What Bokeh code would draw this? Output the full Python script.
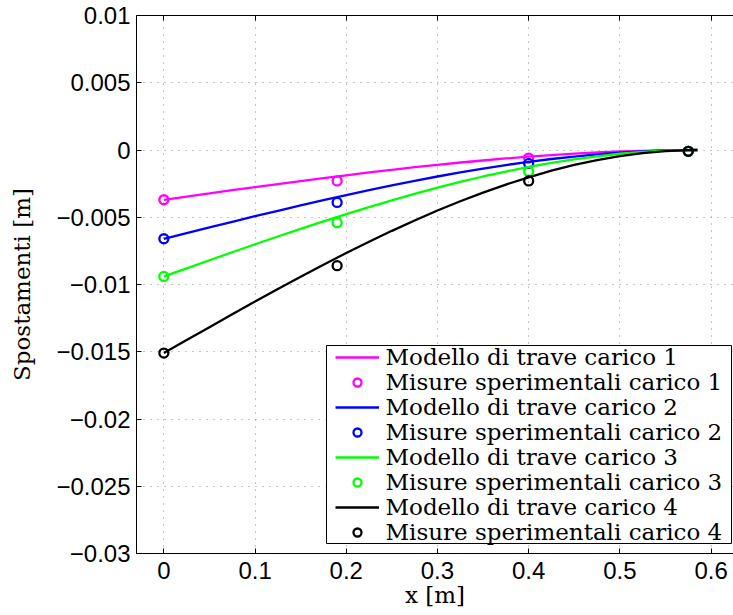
from bokeh.plotting import figure
from bokeh.models import (FixedTicker, CustomJSTickFormatter, LinearAxis, Legend,
                          LegendItem, Range1d, BoxAnnotation, Label)
from bokeh.embed import file_html
from bokeh.resources import INLINE

# ---- data ----
x_model = [0.0, 0.025, 0.05, 0.075, 0.10, 0.125, 0.15, 0.175, 0.20, 0.225, 0.25,
           0.275, 0.30, 0.325, 0.35, 0.375, 0.40, 0.425, 0.45, 0.475, 0.50,
           0.525, 0.55, 0.575, 0.585]
model_1 = [-0.00370, -0.00346, -0.00323, -0.00299, -0.00276, -0.00253, -0.00231,
           -0.00209, -0.00188, -0.00167, -0.00147, -0.00128, -0.00110, -0.00093,
           -0.00078, -0.00063, -0.00050, -0.00038, -0.00027, -0.00018, -0.00011,
           -0.00006, -0.00002, -0.000002, 0.0]
model_2 = [-0.00660, -0.00618, -0.00576, -0.00534, -0.00492, -0.00452, -0.00412,
           -0.00373, -0.00335, -0.00298, -0.00263, -0.00229, -0.00197, -0.00167,
           -0.00138, -0.00112, -0.00089, -0.00067, -0.00049, -0.00033, -0.00020,
           -0.00010, -0.00003, -0.000003, 0.0]
model_3 = [-0.00940, -0.00880, -0.00820, -0.00760, -0.00701, -0.00643, -0.00586,
           -0.00531, -0.00477, -0.00424, -0.00374, -0.00326, -0.00280, -0.00237,
           -0.00197, -0.00160, -0.00126, -0.00096, -0.00069, -0.00047, -0.00028,
           -0.00014, -0.00005, -0.000004, 0.0]
model_4 = [-0.01510, -0.01413, -0.01317, -0.01221, -0.01127, -0.01033, -0.00942,
           -0.00853, -0.00766, -0.00682, -0.00601, -0.00524, -0.00450, -0.00381,
           -0.00317, -0.00257, -0.00203, -0.00154, -0.00111, -0.00075, -0.00045,
           -0.00023, -0.00008, -0.00001, 0.0]

x_meas = [0.0, 0.19, 0.40, 0.575]
meas_1 = [-0.0037, -0.0023, -0.0006, -0.0001]
meas_2 = [-0.0066, -0.0039, -0.0010, -0.0001]
meas_3 = [-0.0094, -0.0054, -0.0016, -0.0001]
meas_4 = [-0.0151, -0.0086, -0.0023, -0.0001]

colors = ["#ff00ff", "#0000ff", "#00ff00", "#000000"]
model_labels = ["Modello di trave carico 1", "Modello di trave carico 2",
                "Modello di trave carico 3", "Modello di trave carico 4"]
meas_labels = ["Misure sperimentali carico 1", "Misure sperimentali carico 2",
               "Misure sperimentali carico 3", "Misure sperimentali carico 4"]

x_ticks = [0.0, 0.1, 0.2, 0.3, 0.4, 0.5, 0.6]
y_ticks = [-0.03, -0.025, -0.02, -0.015, -0.01, -0.005, 0.0, 0.005, 0.01]

# ---- figure ----
p = figure(width=733, height=615, output_backend="svg", toolbar_location=None,
           x_range=Range1d(-0.03, 0.6246), y_range=Range1d(-0.03, 0.01),
           min_border_left=136, min_border_right=0, min_border_top=15,
           min_border_bottom=62)
p.outline_line_color = None
p.background_fill_color = "white"
p.border_fill_color = "white"

fmt = CustomJSTickFormatter(code="""
    if (Math.abs(tick) < 1e-12) { return "0"; }
    const s = String(parseFloat(tick.toFixed(4)));
    return s.replace("-", "\\u2212");
""")

for ax, ticks in ((p.xaxis[0], x_ticks), (p.yaxis[0], y_ticks)):
    ax.ticker = FixedTicker(ticks=ticks)
    ax.formatter = fmt
    ax.major_label_text_font = "Liberation Sans"
    ax.major_label_text_font_size = "24px"
    ax.major_label_text_color = "black"
    ax.axis_line_color = "black"
    ax.axis_line_width = 1
    ax.major_tick_in = 5
    ax.major_tick_out = 0
    ax.major_tick_line_color = "black"
    ax.minor_tick_line_color = None
    ax.axis_label_text_font = "DejaVu Serif"
    ax.axis_label_text_font_size = "23px"
    ax.axis_label_text_font_style = "normal"
    ax.axis_label_text_color = "black"

p.xaxis.axis_label = "x [m]"
p.yaxis.axis_label = "Spostamenti [m]"
p.xaxis.major_label_standoff = 8
p.yaxis.major_label_standoff = 6
p.xaxis.axis_label_standoff = 0
p.yaxis.axis_label_standoff = 18

top = LinearAxis(ticker=FixedTicker(ticks=x_ticks),
                 formatter=CustomJSTickFormatter(code="return '';"),
                 axis_line_color="black", major_tick_in=5, major_tick_out=0,
                 major_label_standoff=0, minor_tick_line_color=None)
p.add_layout(top, "above")

p.xgrid.ticker = FixedTicker(ticks=x_ticks)
p.ygrid.ticker = FixedTicker(ticks=y_ticks)
for g in (p.xgrid[0], p.ygrid[0]):
    g.grid_line_color = "#8c8c8c"
    g.grid_line_dash = "1 6"
    g.grid_line_width = 1

# ---- legend: frame box, glyph samples (Legend), texts (Labels) ----
box = BoxAnnotation(left=190, right=595, bottom=10, top=208,
                    left_units="screen", right_units="screen",
                    bottom_units="screen", top_units="screen",
                    fill_color="white", fill_alpha=1.0,
                    line_color="black", line_width=1, line_alpha=1.0)
p.add_layout(box)

items = []
labels_in_order = []
for mv, ms, c, ml, sl in zip([model_1, model_2, model_3, model_4],
                             [meas_1, meas_2, meas_3, meas_4],
                             colors, model_labels, meas_labels):
    r1 = p.line(x_model, mv, line_color=c, line_width=2.3)
    r2 = p.scatter(x_meas, ms, marker="circle", size=9, fill_color=None,
                   line_color=c, line_width=2.3)
    items.append(LegendItem(label=" ", renderers=[r1]))
    items.append(LegendItem(label=" ", renderers=[r2]))
    labels_in_order += [ml, sl]

row_h = 25
legend = Legend(items=items, location=(199, 9))
legend.label_text_font = "DejaVu Serif"
legend.label_text_font_size = "8px"
legend.glyph_width = 44
legend.glyph_height = 20
legend.label_height = row_h
legend.label_width = 0
legend.label_standoff = 0
legend.padding = 0
legend.spacing = 0
legend.margin = 0
legend.border_line_color = None
legend.background_fill_alpha = 0.0
p.add_layout(legend, "center")

top_row_center = 9 + len(items) * row_h - row_h / 2
for i, txt in enumerate(labels_in_order):
    p.add_layout(Label(x=249, y=top_row_center - i * row_h,
                       x_units="screen", y_units="screen", text=txt,
                       text_font="DejaVu Serif", text_font_size="23px",
                       text_color="black", text_baseline="middle",
                       text_align="left"))

open("out.html", "w").write(file_html(p, INLINE))
